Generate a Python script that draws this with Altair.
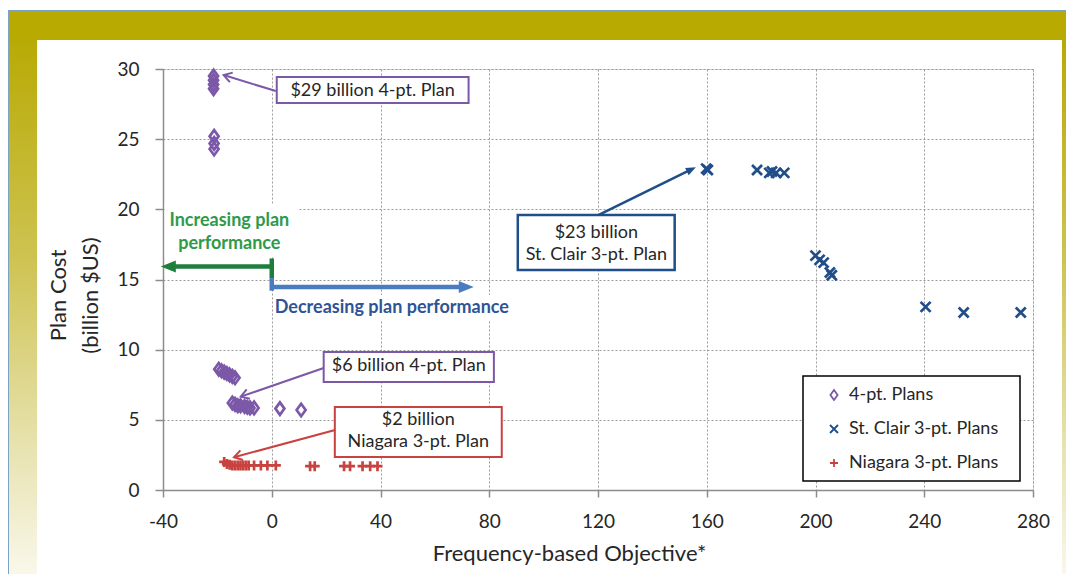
import math
import altair as alt
import pandas as pd

# ---------------- data ----------------
series_names = ["4-pt. Plans", "St. Clair 3-pt. Plans", "Niagara 3-pt. Plans"]

four_x = [-21.4, -21.4, -21.4, -21.4, -21.2, -21.2, -21.2,
          -19.5, -18.5, -17.5, -16.5, -15.5, -14.5, -13.5,
          -14.5, -13.5, -12.5, -11.5, -10.0, -9.0, -8.0, -6.5,
          3.0, 10.8]
four_y = [29.5, 29.2, 28.9, 28.6, 25.2, 24.7, 24.3,
          8.6, 8.5, 8.4, 8.3, 8.2, 8.1, 8.0,
          6.2, 6.1, 6.0, 6.0, 5.95, 5.9, 5.85, 5.85,
          5.8, 5.7]

stclair_x = [159.8, 160.4, 178.5, 183.0, 184.0, 185.5, 188.5,
             200.0, 201.5, 203.0, 205.3, 206.0, 240.5, 254.5, 275.5]
stclair_y = [22.9, 22.8, 22.8, 22.6, 22.7, 22.6, 22.6,
             16.7, 16.4, 16.2, 15.5, 15.3, 13.05, 12.65, 12.65]

niagara_x = [-17.5, -16.5, -15.5, -14.5, -13.5, -12.5, -11.5, -10.5, -9.5,
             -8.5, -6.5, -4.0, -1.6, 1.5, 14.1, 15.8, 26.6, 28.8, 33.4, 36.2, 38.9]
niagara_y = [2.0, 1.85, 1.8, 1.75, 1.75, 1.75, 1.75, 1.75, 1.75,
             1.75, 1.75, 1.75, 1.75, 1.75, 1.7, 1.7, 1.7, 1.7, 1.7, 1.7, 1.7]

x_ticks = [-40, 0, 40, 80, 120, 160, 200, 240, 280]
y_ticks = [0, 2.5, 5, 7.5, 10, 12.5, 15, 17.5, 20, 22.5, 25, 27.5, 30]

box_labels = ["$29 billion 4-pt. Plan", "$6 billion 4-pt. Plan",
              "$2 billion\nNiagara 3-pt. Plan", "$23 billion\nSt. Clair 3-pt. Plan"]
green_label = "Increasing plan\nperformance"
blue_label = "Decreasing plan performance"

# ---------------- styles / layout ----------------
PURPLE = "#7B58A8"
NAVY = "#1F4E8A"
RED = "#C8423F"
GREEN = "#1E7E3C"
GREEN_TXT = "#2E9A4A"
BLUE_ARROW = "#4A7DC0"
BLUE_TXT = "#2F5496"
TXT = "#262626"
FONT = "Lato"
ANN_SIZE = 18

W, H = 870, 421
XMIN, XMAX, YMIN, YMAX = -40, 280, 0, 30
SX = W / (XMAX - XMIN)
SY = H / (YMAX - YMIN)

xs = alt.Scale(domain=[XMIN, XMAX], nice=False, zero=False)
ys = alt.Scale(domain=[YMIN, YMAX], nice=False, zero=False)

DIAMOND = "M0,-1.25L0.9,0L0,1.25L-0.9,0Z"
XSHAPE = "M-1,-1L1,1M-1,1L1,-1"
PLUS = "M-1,0L1,0M0,-1L0,1"
OPEN_HEAD = "M-1,1.6L0,0L1,1.6"
FILL_HEAD = "M-1,2.5L0,0L1,2.5Z"

points = pd.DataFrame({
    "x": four_x + stclair_x + niagara_x,
    "y": four_y + stclair_y + niagara_y,
    "series": [series_names[0]] * len(four_x) + [series_names[1]] * len(stclair_x)
              + [series_names[2]] * len(niagara_x),
})

legend = alt.Legend(orient="none", legendX=662, legendY=317, title=None,
                    labelFont=FONT, labelFontSize=ANN_SIZE, labelColor=TXT,
                    rowPadding=16, symbolStrokeWidth=1.8, symbolSize=64,
                    padding=0, labelOffset=6)

x_axis = alt.Axis(values=x_ticks, title="Frequency-based Objective*",
                  titleFont=FONT, titleFontSize=22, titleFontWeight="normal",
                  titleColor=TXT, titleX=406, titleY=70, titleBaseline="alphabetic",
                  titleAlign="center", labelFont=FONT, labelFontSize=19,
                  labelColor=TXT, labelPadding=15, labelFlush=False,
                  labelOverlap=False, labelExpr="'' + datum.value",
                  tickSize=7, tickColor="#8c8c8c",
                  tickWidth=1.5, domainColor="#8c8c8c", domainWidth=1.5,
                  grid=True, gridDash=[2, 2], gridColor="#9a9a9a", gridWidth=1)

y_axis = alt.Axis(values=y_ticks, title=["Plan Cost", "(billion $US)"],
                  titleFont=FONT, titleFontSize=22, titleFontWeight="normal",
                  titleColor=TXT, titleLineHeight=32, titlePadding=14,
                  titleY=226,
                  labelFont=FONT, labelFontSize=19, labelColor=TXT,
                  labelPadding=16, labelFlush=False, labelOverlap=False,
                  labelExpr="datum.value % 5 === 0 ? datum.label : ''",
                  tickSize=8, tickColor="#8c8c8c", tickWidth=1.5,
                  domainColor="#8c8c8c", domainWidth=1.5,
                  grid=True, gridDash=[2, 2], gridColor="#9a9a9a", gridWidth=1,
                  gridOpacity={"condition": {"test": "datum.value % 5 === 0", "value": 1},
                               "value": 0})

pts = alt.Chart(points).mark_point(filled=False, strokeWidth=2.7, size=100, opacity=1).encode(
    x=alt.X("x:Q", scale=xs, axis=x_axis),
    y=alt.Y("y:Q", scale=ys, axis=y_axis),
    color=alt.Color("series:N", scale=alt.Scale(domain=series_names, range=[PURPLE, NAVY, RED]),
                    legend=legend),
    shape=alt.Shape("series:N", scale=alt.Scale(domain=series_names, range=[DIAMOND, XSHAPE, PLUS]),
                    legend=legend),
)

# ---------------- frame decoration (pixel positions) ----------------
fade = alt.Gradient(gradient="linear", x1=0, x2=0, y1=0, y2=1,
                    stops=[alt.GradientStop(color="#B8AA05", offset=0),
                           alt.GradientStop(color="#CEC352", offset=0.4),
                           alt.GradientStop(color="#E8E3B2", offset=0.75),
                           alt.GradientStop(color="#FBFAF1", offset=1)])
one = pd.DataFrame({"k": [0]})


def frame_rect(x1, x2, y1, y2, fill):
    return alt.Chart(one).mark_rect(fill=fill, strokeWidth=0).encode(
        x=alt.value(x1), x2=alt.value(x2), y=alt.value(y1), y2=alt.value(y2))


frame = [
    frame_rect(-154, 911, -58, -29, "#B8AA00"),
    frame_rect(-154, -126, -29, 520, fade),
    frame_rect(899, 911, -29, 520, fade),
    frame_rect(-157, 911, -59, -58, "#7BA3C4"),
    frame_rect(-157, -154, -59, 520, "#7BA3C4"),
]

# ---------------- annotations ----------------
boxes = pd.DataFrame({
    "x": [1.84, 19.1, 23.2, 90.5, -39.4, 1.0],
    "x2": [72.4, 81.7, 84.6, 148.2, 9.5, 89.0],
    "y": [29.43, 9.83, 5.91, 19.6, 20.4, 13.9],
    "y2": [27.58, 7.70, 2.35, 15.68, 16.6, 12.1],
    "stroke": [PURPLE, PURPLE, RED, NAVY, "white", "white"],
    "sw": [2, 2, 2, 2.5, 0, 0],
})
box_layer = alt.Chart(boxes).mark_rect(fill="white").encode(
    x=alt.X("x:Q", scale=xs), x2="x2:Q", y=alt.Y("y:Q", scale=ys), y2="y2:Q",
    stroke=alt.Stroke("stroke:N", scale=None),
    strokeWidth=alt.StrokeWidth("sw:Q", scale=None),
)

arrows_spec = [
    # x0, y0, tip x, tip y, color, width, head, head size, head length px
    (1.5, 28.43, -17.7, 29.57, PURPLE, 2, OPEN_HEAD, 100, 0),
    (19.1, 8.69, -11.4, 6.65, PURPLE, 2, OPEN_HEAD, 100, 0),
    (23.3, 4.28, -13.9, 2.33, RED, 2, OPEN_HEAD, 100, 0),
    (120.3, 19.6, 156.0, 23.0, NAVY, 2.5, FILL_HEAD, 64, 9),
    (0.0, 15.92, -40.8, 15.92, GREEN, 4.5, FILL_HEAD, 144, 13),
    (0.0, 14.47, 74.3, 14.47, BLUE_ARROW, 4.5, FILL_HEAD, 144, 13),
]
lines = {"x": [], "y": [], "x2": [], "y2": [], "c": [], "w": []}
heads = {"x": [], "y": [], "c": [], "shape": [], "size": [], "angle": [], "filled": []}
for x0, y0, x1, y1, c, w, shp, sz, hl in arrows_spec:
    dxp = (x1 - x0) * SX
    dyp = -(y1 - y0) * SY
    L = math.hypot(dxp, dyp)
    f = (L - hl) / L
    lines["x"].append(x0); lines["y"].append(y0)
    lines["x2"].append(x0 + (x1 - x0) * f); lines["y2"].append(y0 + (y1 - y0) * f)
    lines["c"].append(c); lines["w"].append(w)
    heads["x"].append(x1); heads["y"].append(y1); heads["c"].append(c)
    heads["shape"].append(shp); heads["size"].append(sz)
    heads["angle"].append(math.degrees(math.atan2(dxp, -dyp)) % 360)
    heads["filled"].append(shp == FILL_HEAD)
# small vertical connectors at x = 0
for yy0, yy1, c in [(16.5, 15.1, GREEN), (15.1, 14.2, BLUE_ARROW)]:
    lines["x"].append(0.0); lines["y"].append(yy0)
    lines["x2"].append(0.0); lines["y2"].append(yy1)
    lines["c"].append(c); lines["w"].append(4.5)

lines_df = pd.DataFrame(lines)
heads_df = pd.DataFrame(heads)

line_layer = alt.Chart(lines_df).mark_rule(strokeCap="butt").encode(
    x=alt.X("x:Q", scale=xs), y=alt.Y("y:Q", scale=ys), x2="x2:Q", y2="y2:Q",
    color=alt.Color("c:N", scale=None),
    strokeWidth=alt.StrokeWidth("w:Q", scale=None),
)
open_heads = alt.Chart(heads_df[~heads_df["filled"]]).mark_point(
    filled=False, strokeWidth=2, opacity=1).encode(
    x=alt.X("x:Q", scale=xs), y=alt.Y("y:Q", scale=ys),
    color=alt.Color("c:N", scale=None),
    shape=alt.Shape("shape:N", scale=None),
    size=alt.Size("size:Q", scale=None),
    angle=alt.Angle("angle:Q", scale=None),
)
filled_heads = alt.Chart(heads_df[heads_df["filled"]]).mark_point(
    filled=True, opacity=1).encode(
    x=alt.X("x:Q", scale=xs), y=alt.Y("y:Q", scale=ys),
    color=alt.Color("c:N", scale=None),
    shape=alt.Shape("shape:N", scale=None),
    size=alt.Size("size:Q", scale=None),
    angle=alt.Angle("angle:Q", scale=None),
)

# y = position of the first text line
box_text = pd.DataFrame({
    "x": [37.1, 50.4, 53.9, 119.4],
    "y": [28.45, 8.84, 4.99, 18.31],
    "t": box_labels,
})
box_text_layer = alt.Chart(box_text).mark_text(
    font=FONT, fontSize=ANN_SIZE, color=TXT, lineBreak="\n", lineHeight=22,
    baseline="middle", align="center").encode(
    x=alt.X("x:Q", scale=xs), y=alt.Y("y:Q", scale=ys), text="t:N")

green_text = alt.Chart(pd.DataFrame({"x": [-15.6], "y": [19.2], "t": [green_label]})).mark_text(
    font=FONT, fontSize=ANN_SIZE, fontWeight="bold", color=GREEN_TXT, lineBreak="\n",
    lineHeight=23, baseline="middle", align="center").encode(
    x=alt.X("x:Q", scale=xs), y=alt.Y("y:Q", scale=ys), text="t:N")

blue_text = alt.Chart(pd.DataFrame({"x": [1.1], "y": [12.99], "t": [blue_label]})).mark_text(
    font=FONT, fontSize=ANN_SIZE, fontWeight="bold", color=BLUE_TXT,
    baseline="middle", align="left").encode(
    x=alt.X("x:Q", scale=xs), y=alt.Y("y:Q", scale=ys), text="t:N")

legend_box = alt.Chart(one).mark_rect(fill="white", stroke="black", strokeWidth=1.5).encode(
    x=alt.value(640), x2=alt.value(857), y=alt.value(307), y2=alt.value(412))

chart = alt.layer(
    *frame, box_layer, pts, line_layer, open_heads, filled_heads,
    box_text_layer, green_text, blue_text, legend_box,
).properties(
    width=W, height=H,
    autosize=alt.AutoSizeParams(type="none"),
    padding={"left": 155, "top": 61, "right": 33, "bottom": 84},
    background="white",
).configure_view(
    stroke="#9a9a9a", strokeWidth=1.5,
).configure(font=FONT)

chart.save("out.html", embed_options={"renderer": "svg", "actions": False})
